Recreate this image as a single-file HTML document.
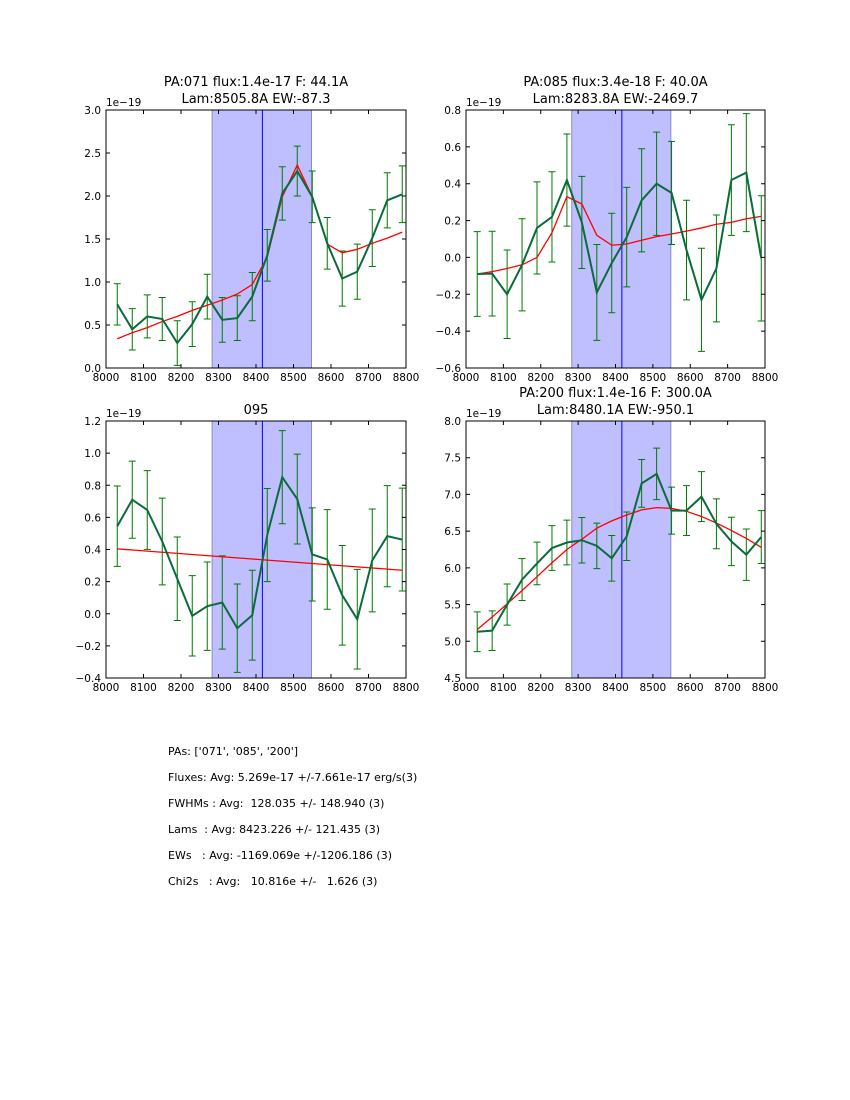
<!DOCTYPE html>
<html><head><meta charset="utf-8">
<style>
body{margin:0;background:#fff;}
svg text{font-family:"DejaVu Sans","Liberation Sans",sans-serif;fill:#000;}
.info{position:absolute;left:168px;font-family:"DejaVu Sans","Liberation Sans",sans-serif;font-size:11px;white-space:pre;color:#000;}
</style></head>
<body>
<div style="position:relative;width:850px;height:1100px;overflow:hidden">
<svg id="chart" width="850" height="1100" viewBox="0 0 850 1100" xmlns="http://www.w3.org/2000/svg"></svg>
<div class="info" style="top:745px">PAs: ['071', '085', '200']</div>
<div class="info" style="top:771px">Fluxes: Avg: 5.269e-17 +/-7.661e-17 erg/s(3)</div>
<div class="info" style="top:797px">FWHMs : Avg:  128.035 +/- 148.940 (3)</div>
<div class="info" style="top:823px">Lams  : Avg: 8423.226 +/- 121.435 (3)</div>
<div class="info" style="top:849px">EWs   : Avg: -1169.069e +/-1206.186 (3)</div>
<div class="info" style="top:875px">Chi2s   : Avg:   10.816e +/-   1.626 (3)</div>
</div>
<script>
const wavelengths = [8030,8070,8110,8150,8190,8230,8270,8310,8350,8390,8430,8470,8510,8550,8590,8630,8670,8710,8750,8790];
const xTicks = [8000,8100,8200,8300,8400,8500,8600,8700,8800];
const windowRange = [8283,8548];
const lineCenter = 8417;

const p1Data = [0.74,0.45,0.60,0.57,0.29,0.51,0.83,0.56,0.58,0.83,1.31,2.03,2.29,1.99,1.45,1.04,1.12,1.51,1.95,2.02];
const p1Err  = [0.24,0.24,0.25,0.25,0.26,0.26,0.26,0.26,0.26,0.28,0.30,0.31,0.29,0.30,0.30,0.32,0.32,0.33,0.32,0.33];
const p1Fit  = [0.34,0.41,0.47,0.54,0.60,0.67,0.73,0.79,0.86,0.97,1.29,1.99,2.36,1.99,1.44,1.34,1.38,1.45,1.51,1.58];
const p1YTicks = [0.0,0.5,1.0,1.5,2.0,2.5,3.0];

const p2Data = [-0.09,-0.088,-0.20,-0.04,0.16,0.22,0.42,0.19,-0.19,-0.03,0.11,0.31,0.40,0.35,0.04,-0.23,-0.06,0.42,0.46,-0.005];
const p2Err  = [0.23,0.23,0.24,0.25,0.25,0.245,0.25,0.25,0.26,0.27,0.27,0.28,0.28,0.28,0.27,0.28,0.29,0.30,0.32,0.34];
const p2Fit  = [-0.09,-0.077,-0.06,-0.04,0.0,0.134,0.33,0.29,0.12,0.066,0.073,0.093,0.113,0.127,0.143,0.16,0.18,0.19,0.21,0.223];
const p2YTicks = [-0.6,-0.4,-0.2,0.0,0.2,0.4,0.6,0.8];

const p3Data = [0.545,0.71,0.646,0.45,0.218,-0.013,0.047,0.07,-0.09,-0.009,0.49,0.85,0.714,0.369,0.338,0.115,-0.034,0.332,0.483,0.462];
const p3Err  = [0.25,0.24,0.245,0.27,0.26,0.25,0.275,0.29,0.275,0.28,0.29,0.29,0.28,0.29,0.31,0.31,0.31,0.32,0.315,0.32];
const p3Fit  = [0.404,0.397,0.390,0.383,0.376,0.369,0.362,0.355,0.348,0.341,0.334,0.327,0.320,0.313,0.306,0.299,0.292,0.285,0.278,0.271];
const p3YTicks = [-0.4,-0.2,0.0,0.2,0.4,0.6,0.8,1.0,1.2];

const p4Data = [5.13,5.145,5.50,5.84,6.06,6.27,6.345,6.376,6.30,6.13,6.43,7.15,7.28,6.78,6.78,6.97,6.60,6.36,6.18,6.42];
const p4Err  = [0.27,0.27,0.28,0.285,0.29,0.305,0.305,0.31,0.31,0.31,0.33,0.325,0.35,0.32,0.34,0.34,0.34,0.33,0.35,0.36];
const p4Fit  = [5.16,5.33,5.51,5.69,5.88,6.07,6.25,6.39,6.54,6.64,6.72,6.79,6.82,6.81,6.77,6.70,6.61,6.51,6.40,6.28];
const p4YTicks = [4.5,5.0,5.5,6.0,6.5,7.0,7.5,8.0];

const NS = "http://www.w3.org/2000/svg";
const svg = document.getElementById('chart');
function mk(tag, attrs, parent){
  const e = document.createElementNS(NS, tag);
  for (const k in attrs) e.setAttribute(k, attrs[k]);
  (parent||svg).appendChild(e);
  return e;
}
function fmt(v, d){ return v.toFixed(d).replace('-', '\u2212'); }

function panel(name, L, T, W, H, ymin, ymax, yTicks, dec, data, err, fit, titles){
  const g = mk('g', {});
  
  
  const xs = v => L + (v - 8000) / 800 * W;
  const ys = v => T + H - (v - ymin) / (ymax - ymin) * H;
  const cid = name + '-clip';
  const cp = mk('clipPath', {id: cid}, g);
  mk('rect', {x: L, y: T, width: W, height: H}, cp);
  const inner = mk('g', {'clip-path': 'url(#' + cid + ')'}, g);
  const shade = mk('rect', {x: xs(windowRange[0]), y: T, width: xs(windowRange[1]) - xs(windowRange[0]), height: H, fill: '#bfbfff', stroke: '#8a8ac8', 'stroke-width': 1}, inner);
  
  
  const cl = mk('line', {x1: xs(lineCenter), x2: xs(lineCenter), y1: T, y2: T + H, stroke: '#0000ff', 'stroke-width': 1}, inner);
  
  
  for (let i = 0; i < wavelengths.length; i++) {
    const x = xs(wavelengths[i]);
    const y1 = ys(data[i] + err[i]), y2 = ys(data[i] - err[i]);
    const eb = mk('path', {d: `M${x},${y1}V${y2}M${x-3.5},${y1}H${x+3.5}M${x-3.5},${y2}H${x+3.5}`, stroke: '#007a00', 'stroke-width': 1, fill: 'none'}, inner);
    
    
  }
  const fitPts = wavelengths.map((w, i) => xs(w) + ',' + ys(fit[i])).join(' ');
  const fl = mk('polyline', {points: fitPts, fill: 'none', stroke: '#ff0000', 'stroke-width': 1.3}, inner);
  
  
  const dPts = wavelengths.map((w, i) => xs(w) + ',' + ys(data[i])).join(' ');
  const dl = mk('polyline', {points: dPts, fill: 'none', stroke: '#0b6b3a', 'stroke-width': 2}, inner);
  
  
  mk('rect', {x: L, y: T, width: W, height: H, fill: 'none', stroke: '#000', 'stroke-width': 1}, g);
  xTicks.forEach(t => {
    const x = xs(t);
    mk('path', {d: `M${x},${T+H}v-4M${x},${T}v4`, stroke: '#000', 'stroke-width': 1}, g);
    const tx = mk('text', {x: x, y: T + H + 13, 'font-size': 10.5, 'text-anchor': 'middle'}, g);
    tx.textContent = t;
    
    
  });
  yTicks.forEach(t => {
    const y = ys(t);
    mk('path', {d: `M${L},${y}h4M${L+W},${y}h-4`, stroke: '#000', 'stroke-width': 1}, g);
    const ty = mk('text', {x: L - 5, y: y + 4, 'font-size': 10.5, 'text-anchor': 'end'}, g);
    ty.textContent = fmt(t, dec);
    
    
  });
  const off = mk('text', {x: L, y: T - 4, 'font-size': 10.5}, g);
  off.textContent = '1e\u221219';
  
  
  titles.forEach((s, i) => {
    const tt = mk('text', {x: L + W / 2, y: T - 7 - (titles.length - 1 - i) * 17, 'font-size': 13, 'text-anchor': 'middle'}, g);
    tt.textContent = s;
    
    
  });
}

panel('panel-pa071', 106, 110, 300, 258, 0, 3.0, p1YTicks, 1, p1Data, p1Err, p1Fit, ['PA:071 flux:1.4e-17 F: 44.1A', 'Lam:8505.8A EW:-87.3']);
panel('panel-pa085', 466, 110, 299, 258, -0.6, 0.8, p2YTicks, 1, p2Data, p2Err, p2Fit, ['PA:085 flux:3.4e-18 F: 40.0A', 'Lam:8283.8A EW:-2469.7']);
panel('panel-095', 106, 421, 300, 257, -0.4, 1.2, p3YTicks, 1, p3Data, p3Err, p3Fit, ['095']);
panel('panel-pa200', 466, 421, 299, 257, 4.5, 8.0, p4YTicks, 1, p4Data, p4Err, p4Fit, ['PA:200 flux:1.4e-16 F: 300.0A', 'Lam:8480.1A EW:-950.1']);
</script>
</body></html>
